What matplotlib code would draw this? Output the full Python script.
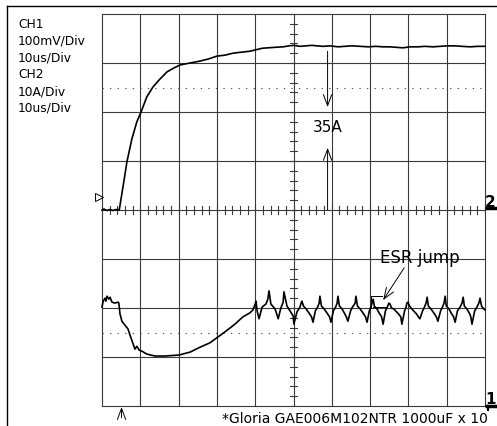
import matplotlib
matplotlib.use("Agg")
import matplotlib.pyplot as plt
from matplotlib.lines import Line2D
import numpy as np

# scope screen: 10 x 8 divisions, 10us/div horizontally
# CH2 current step (upper trace), in divisions
step_x = [0.00, 0.05, 0.13, 0.21, 0.29, 0.37, 0.45, 0.56, 0.65, 0.78, 0.91, 1.02,
          1.17, 1.33, 1.51, 1.70, 1.88, 2.04, 2.30, 2.56, 2.77, 3.00, 3.21, 3.42,
          3.63, 3.86, 4.02, 4.18, 4.33, 4.52, 4.73, 4.88, 5.01, 5.17, 5.33, 5.48,
          5.61, 5.77, 5.95, 6.16, 6.34, 6.53, 6.74, 6.95, 7.15, 7.34, 7.52, 7.68,
          7.86, 8.04, 8.25, 8.43, 8.64, 8.83, 9.01, 9.22, 9.40, 9.61, 9.82, 10.00]
step_y = [4.00, 4.02, 3.99, 4.01, 3.99, 4.01, 4.00, 4.53, 4.98, 5.45, 5.80, 6.00,
          6.31, 6.51, 6.67, 6.82, 6.90, 6.96, 7.00, 7.04, 7.08, 7.14, 7.16, 7.20,
          7.22, 7.24, 7.27, 7.30, 7.31, 7.32, 7.33, 7.35, 7.36, 7.34, 7.35, 7.36,
          7.35, 7.34, 7.35, 7.33, 7.34, 7.35, 7.34, 7.33, 7.34, 7.33, 7.33, 7.32,
          7.31, 7.33, 7.33, 7.34, 7.33, 7.34, 7.35, 7.35, 7.34, 7.33, 7.34, 7.34]

# CH1 output voltage (lower trace), in divisions
volt_x = [0.00, 0.03, 0.08, 0.10, 0.13, 0.18, 0.21, 0.26, 0.34, 0.42, 0.44, 0.47,
          0.52, 0.60, 0.68, 0.73, 0.81, 0.86, 0.91, 0.97, 1.04, 1.17, 1.38, 1.64,
          2.01, 2.30, 2.56, 2.82, 3.03, 3.24, 3.47, 3.68, 3.86, 3.94, 4.00, 4.02,
          4.05, 4.10, 4.18, 4.28, 4.33, 4.36, 4.41, 4.52, 4.60, 4.67, 4.73, 4.75,
          4.83, 4.91, 4.99, 5.01, 5.09, 5.17, 5.20,
          5.22, 5.26, 5.33, 5.42, 5.47, 5.51, 5.57, 5.63, 5.67,
          5.69, 5.73, 5.80, 5.89, 5.94, 5.98, 6.04, 6.10, 6.14,
          6.16, 6.20, 6.27, 6.34, 6.38, 6.42, 6.49, 6.54, 6.61,
          6.63, 6.67, 6.74, 6.83, 6.88, 6.92, 6.98, 7.02, 7.05,
          7.08, 7.11, 7.18, 7.25, 7.30, 7.34, 7.40, 7.45, 7.49,
          7.52, 7.56, 7.62, 7.74, 7.80, 7.83, 7.90, 7.94, 7.96,
          7.99, 8.03, 8.09, 8.21, 8.26, 8.30, 8.37, 8.42, 8.46,
          8.49, 8.52, 8.59, 8.68, 8.73, 8.77, 8.84, 8.89, 8.93,
          8.96, 8.99, 9.06, 9.13, 9.18, 9.22, 9.28, 9.35, 9.40,
          9.43, 9.46, 9.53, 9.60, 9.63, 9.66, 9.73, 9.79, 9.84,
          9.87, 9.91, 9.97, 10.00]
volt_y = [2.02, 2.14, 2.20, 2.14, 2.24, 2.18, 2.22, 2.12, 2.10, 2.12, 2.10, 1.88,
          1.73, 1.65, 1.57, 1.45, 1.27, 1.16, 1.22, 1.14, 1.12, 1.06, 1.02, 1.02,
          1.04, 1.10, 1.20, 1.29, 1.41, 1.53, 1.67, 1.82, 1.90, 1.96, 2.08, 2.14,
          1.94, 1.78, 2.02, 2.08, 2.18, 2.35, 2.08, 1.98, 1.78, 2.00, 2.12, 2.33,
          2.04, 1.94, 1.84, 1.67, 1.92, 2.02, 2.10,
          2.14, 2.04, 1.98, 1.88, 1.82, 1.71, 1.94, 2.02, 2.10,
          2.24, 2.04, 1.98, 1.88, 1.82, 1.71, 1.94, 2.02, 2.10,
          2.24, 2.04, 1.98, 1.88, 1.82, 1.73, 1.94, 2.02, 2.10,
          2.24, 2.04, 1.98, 1.88, 1.82, 1.71, 1.94, 2.02, 2.10,
          2.18, 2.04, 1.98, 1.88, 1.82, 1.67, 1.94, 2.02, 2.10,
          2.08, 2.00, 1.98, 1.88, 1.82, 1.67, 1.94, 2.02, 2.10,
          2.12, 2.04, 1.98, 1.88, 1.82, 1.78, 1.94, 2.02, 2.10,
          2.22, 2.04, 1.98, 1.88, 1.82, 1.73, 1.94, 2.02, 2.10,
          2.24, 2.04, 1.98, 1.88, 1.82, 1.71, 1.94, 2.02, 2.10,
          2.22, 2.04, 1.98, 1.88, 1.82, 1.67, 1.94, 2.02, 2.10,
          2.20, 2.04, 1.98, 1.96]

channel_labels = ["CH1", "100mV/Div", "10us/Div", "CH2", "10A/Div", "10us/Div"]
footnote = "*Gloria GAE006M102NTR 1000uF x 10"

W, H = 497, 427
GRID = "#3a3a3a"
FONT = "DejaVu Sans"


def fx(px):
    return px / W


def fy(py):
    return 1 - py / H


fig = plt.figure(figsize=(W / 100, H / 100), dpi=100)
fig.patch.set_facecolor("white")
ax = fig.add_axes([fx(102), fy(407), (485 - 102) / W, (407 - 15) / H])
ax.set_xlim(0, 10)
ax.set_ylim(0, 8)
ax.axis("off")

# outer frame
fig.add_artist(Line2D([fx(7), fx(7)], [0, fy(7)], color="k", lw=1.0))
fig.add_artist(Line2D([fx(7), 1], [fy(7), fy(7)], color="k", lw=1.0))

# graticule
for gx in range(11):
    ax.axvline(gx, color=GRID, lw=0.8, clip_on=False)
for gy in range(9):
    ax.axhline(gy, color=GRID, lw=0.8, clip_on=False)
for gy in (1.5, 6.5):
    ax.axhline(gy, color="#555555", lw=0.8, dashes=(1.2, 5.6))

# minor ticks on the centre axes
for tx in np.arange(0, 10.01, 0.2):
    ax.plot([tx, tx], [3.92, 4.08], color=GRID, lw=0.8)
for ty in np.arange(0, 8.01, 0.2):
    ax.plot([4.92, 5.08], [ty, ty], color=GRID, lw=0.8)

ax.plot(step_x, step_y, color="k", lw=1.2, clip_on=False)
ax.plot(volt_x, volt_y, color="k", lw=1.2, clip_on=False)

arrow = dict(arrowstyle="->,head_length=0.8,head_width=0.3", color="k", lw=0.7,
             shrinkA=0, shrinkB=0, mutation_scale=10)
ax.annotate("", xy=(5.89, 6.10), xytext=(5.89, 7.24), arrowprops=arrow)
ax.annotate("", xy=(5.89, 5.27), xytext=(5.89, 4.0), arrowprops=arrow)
ax.text(5.51, 5.61, "35A", fontsize=11, family=FONT, va="baseline", ha="left")

ax.text(7.26, 2.94, "ESR jump", fontsize=12, family=FONT, va="baseline", ha="left")
ax.annotate("", xy=(7.34, 2.16), xytext=(7.89, 2.82), arrowprops=arrow)
ax.plot([7.31, 7.02, 7.02], [2.24, 2.24, 2.00], color="k", lw=0.7)
ax.plot([7.08, 7.42], [2.02, 2.02], color="k", lw=0.7)

# trigger markers
ax.annotate("", xy=(0.51, -0.02), xytext=(0.51, -0.24), arrowprops=arrow,
            annotation_clip=False)
ax.plot([-0.08], [4.26], marker=">", ms=6, mfc="white", mec="k", mew=0.7,
        clip_on=False)

# channel reference markers
ax.plot([10.0, 10.32], [4.04, 4.04], color="k", lw=2.5, clip_on=False,
        solid_capstyle="butt")
ax.plot([10.0, 10.32], [0.0, 0.0], color="k", lw=2.5, clip_on=False,
        solid_capstyle="butt")
ax.plot([10.08, 10.08], [0.0, -0.08], color="k", lw=1.5, clip_on=False)
fig.text(fx(490), fy(207), "2", fontsize=11, family=FONT, weight="bold",
         ha="center", va="baseline")
fig.text(fx(491), fy(404), "1", fontsize=11, family=FONT, weight="bold",
         ha="center", va="baseline")

for i, label in enumerate(channel_labels):
    fig.text(fx(18), fy(28.3 + 16.7 * i), label, fontsize=8.8, family=FONT,
             va="baseline", ha="left")

fig.text(fx(488), fy(423), footnote, fontsize=10, family=FONT,
         va="baseline", ha="right")

fig.savefig("out.png", dpi=100)
